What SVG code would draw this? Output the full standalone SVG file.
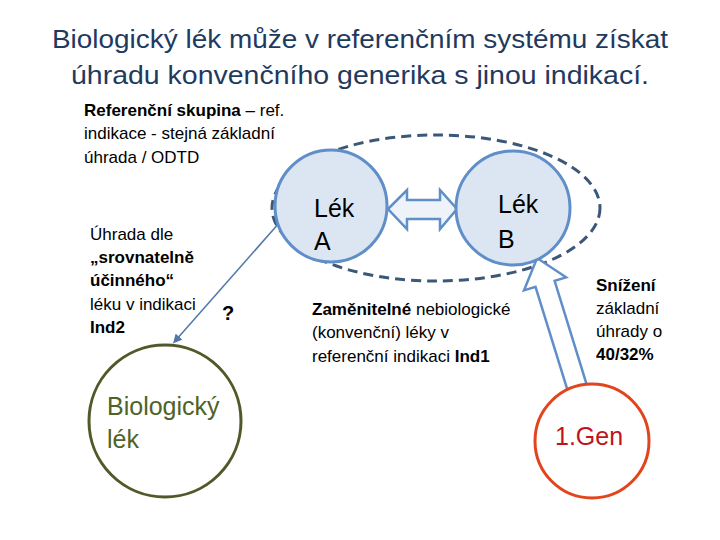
<svg xmlns="http://www.w3.org/2000/svg" width="720" height="540" viewBox="0 0 720 540">
<style>
text{font-family:"Liberation Sans",Arial,sans-serif;fill:#000}
.title{font-size:26px;fill:#1f3a5f}
.s{font-size:17px}
.b{font-weight:bold}
.big{font-size:25px}
.drug{fill:#dce6f2;stroke:#5f8ec8;stroke-width:3}
</style>
<defs>
<marker id="ah" markerWidth="6" markerHeight="6" refX="3" refY="3" orient="auto"><path d="M0,0 L6,3 L0,6 z" fill="#4f78a8"/></marker>
</defs>
<rect width="720" height="540" fill="#fff"/>
<g id="title">
<text class="title" x="360" y="48" text-anchor="middle" textLength="616" lengthAdjust="spacingAndGlyphs">Biologický lék může v referenčním systému získat</text>
<text class="title" x="360" y="84" text-anchor="middle" textLength="578" lengthAdjust="spacingAndGlyphs">úhradu konvenčního generika s jinou indikací.</text>
</g>
<g id="ref-group">
<ellipse cx="436" cy="208" rx="164" ry="73" fill="none" stroke="#3b5878" stroke-width="3" stroke-dasharray="10,6"/>
<text class="s" x="84" y="116"><tspan class="b">Referenční skupina</tspan> – ref.</text>
<text class="s" x="84" y="139">indikace - stejná základní</text>
<text class="s" x="84" y="163">úhrada / ODTD</text>
</g>
<g id="connectors">
<line x1="280" y1="222" x2="176" y2="340" stroke="#4f78a8" stroke-width="1.5" marker-end="url(#ah)"/>
<path d="M388,209 L407,190 L407,200 L440,200 L440,190 L457,209 L440,229 L440,219 L407,219 L407,229 Z" fill="#eef3f9" stroke="#5f8ec8" stroke-width="2.5"/>
<g transform="translate(577,387) rotate(-17.2)">
<path d="M-10,0 L-10,-108 L-22,-108 L0,-135 L22,-108 L10,-108 L10,0" fill="#fff" stroke="#5f8ec8" stroke-width="2.5"/>
</g>
</g>
<g id="lekA">
<circle class="drug" cx="331" cy="206" r="56"/>
<text class="big" x="314" y="217">Lék</text>
<text class="big" x="314" y="250">A</text>
</g>
<g id="lekB">
<circle class="drug" cx="513" cy="208" r="57"/>
<text class="big" x="498" y="213">Lék</text>
<text class="big" x="498" y="248">B</text>
</g>
<g id="biologicky">
<circle cx="165" cy="421" r="76" fill="#fff" stroke="#4f5a28" stroke-width="3"/>
<text class="big" x="107" y="415" style="fill:#4f6228">Biologický</text>
<text class="big" x="107" y="448" style="fill:#4f6228">lék</text>
</g>
<g id="gen">
<circle cx="592" cy="441" r="57" fill="#fff" stroke="#e2451e" stroke-width="3"/>
<text class="big" x="555" y="445" style="fill:#c0141c">1.Gen</text>
</g>
<g id="labels">
<text class="s" x="90" y="240">Úhrada dle</text>
<text class="s b" x="90" y="263">„srovnatelně</text>
<text class="s b" x="90" y="286">účinného“</text>
<text class="s" x="90" y="310">léku v indikaci</text>
<text class="s b" x="90" y="333">Ind2</text>
<text class="b" x="222" y="320" style="font-size:20px">?</text>
<text class="s" x="312" y="315"><tspan class="b">Zaměnitelné</tspan> nebiologické</text>
<text class="s" x="312" y="338">(konvenční) léky v</text>
<text class="s" x="312" y="362">referenční indikaci <tspan class="b">Ind1</tspan></text>
<text class="s b" x="596" y="291">Snížení</text>
<text class="s" x="596" y="314">základní</text>
<text class="s" x="596" y="337">úhrady o</text>
<text class="s b" x="596" y="360">40/32%</text>
</g>
</svg>
